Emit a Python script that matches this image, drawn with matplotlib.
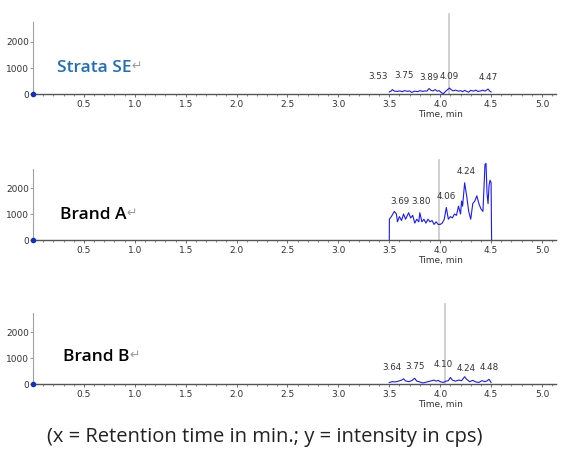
import matplotlib
matplotlib.use("Agg")
import matplotlib.pyplot as plt
from matplotlib.ticker import MultipleLocator
from matplotlib.transforms import offset_copy

# --- data (time in min, intensity in cps) ---
strata_t = [3.50, 3.52, 3.53, 3.55, 3.58, 3.60, 3.63, 3.65, 3.68, 3.70, 3.72, 3.75,
            3.78, 3.80, 3.83, 3.85, 3.87, 3.89, 3.91, 3.93, 3.95, 3.97, 3.99, 4.01,
            4.03, 4.05, 4.07, 4.09, 4.11, 4.13, 4.15, 4.18, 4.20, 4.22, 4.24, 4.26,
            4.28, 4.30, 4.33, 4.35, 4.37, 4.40, 4.42, 4.44, 4.47, 4.49, 4.50]
strata_i = [80, 120, 170, 110, 100, 120, 90, 130, 100, 120, 60, 110,
            90, 130, 100, 120, 110, 210, 140, 120, 170, 110, 130, 60,
            10, 90, 160, 230, 160, 120, 150, 110, 130, 90, 140, 100,
            70, 140, 110, 150, 100, 120, 150, 110, 190, 100, 80]

brandA_t = [3.50, 3.501, 3.52, 3.55, 3.57, 3.58, 3.60, 3.62, 3.64, 3.66, 3.69, 3.71,
            3.73, 3.75, 3.77, 3.79, 3.80, 3.82, 3.84, 3.86, 3.88, 3.90, 3.92, 3.94,
            3.96, 3.98, 4.00, 4.02, 4.04, 4.06, 4.08, 4.10, 4.12, 4.14, 4.16, 4.18,
            4.20, 4.21, 4.22, 4.24, 4.26, 4.28, 4.30, 4.32, 4.34, 4.36, 4.38, 4.40,
            4.42, 4.44, 4.45, 4.46, 4.47, 4.48, 4.49, 4.50, 4.505]
brandA_i = [0, 800, 900, 1100, 1000, 700, 900, 750, 1000, 800, 1050, 850,
            950, 650, 800, 700, 1050, 700, 800, 650, 800, 700, 750, 600,
            700, 600, 600, 650, 800, 1250, 800, 900, 850, 1000, 950, 1300,
            1000, 1500, 1300, 2200, 1700, 1100, 800, 1400, 1500, 1700, 1400, 1200,
            1100, 2900, 2950, 1800, 1400, 2100, 2300, 2200, 0]

brandB_t = [3.50, 3.53, 3.56, 3.59, 3.62, 3.64, 3.66, 3.69, 3.72, 3.75, 3.77, 3.80,
            3.83, 3.85, 3.88, 3.91, 3.94, 3.96, 3.98, 4.00, 4.03, 4.05, 4.08, 4.10,
            4.12, 4.15, 4.18, 4.21, 4.24, 4.26, 4.29, 4.32, 4.35, 4.38, 4.41, 4.44,
            4.46, 4.48, 4.50]
brandB_i = [60, 90, 80, 110, 150, 200, 120, 90, 130, 220, 110, 80,
            40, 60, 90, 120, 150, 110, 140, 90, 60, 100, 130, 250,
            150, 110, 150, 130, 280, 180, 90, 140, 80, 60, 130, 90,
            120, 180, 60]

strata_peaks = [3.53, 3.75, 3.89, 4.09, 4.47]
brandA_peaks = [3.69, 3.80, 4.06, 4.24]
brandB_peaks = [3.64, 3.75, 4.10, 4.24, 4.48]

# label nudges in points (x, y) so neighbouring peak labels don't collide
strata_nudge = [(-10, 1), (-8, 3), (0, 0), (0, 0), (0, 0)]
brandA_nudge = [(-6, 0), (1, 0), (0, 0), (1, 0)]
brandB_nudge = [(-8, 0), (0, 0), (-5, 1), (1, -2), (0, 0)]

panels = [
    ("Strata SE", "#1f6fb8", strata_t, strata_i, strata_peaks, strata_nudge,
     4.09, 0.7943, 0.236, 1000),
    ("Brand A", "black", brandA_t, brandA_i, brandA_peaks, brandA_nudge,
     3.99, 0.4748, 0.265, 960),
    ("Brand B", "black", brandB_t, brandB_i, brandB_peaks, brandB_nudge,
     4.05, 0.1597, 0.295, 1040),
]

fig = plt.figure(figsize=(5.63, 4.57), dpi=100)

for name, col, t, inten, peaks, nudge, marker_x, bottom, name_x, name_y in panels:
    ax = fig.add_axes([0.0586, bottom, 0.9294, 0.1764])
    ax.set_xlim(0, 5.14)
    ax.set_ylim(0, 3100)

    ax.axvline(marker_x, ymin=0, ymax=0.99, color="#c8c8c8", lw=1.2, zorder=1)
    ax.plot(t, inten, color="#1a1aff", lw=0.8, zorder=3)
    ax.plot([0], [0], marker="o", ms=3, color="#1030c0", clip_on=False, zorder=5)

    # peak labels
    for p, (dx, dy) in zip(peaks, nudge):
        near = min(range(len(t)), key=lambda k: abs(t[k] - p))
        lbl_tr = offset_copy(ax.transData, fig=fig, x=dx, y=5 + dy, units="points")
        ax.text(p, inten[near], f"{p:.2f}", transform=lbl_tr, fontsize=6.3,
                ha="center", va="bottom", color="#333333",
                family="Liberation Sans Narrow")

    for s in ["top", "right"]:
        ax.spines[s].set_visible(False)
    ax.spines["left"].set_color("#a0a0a0")
    ax.spines["left"].set_linewidth(0.8)
    ax.spines["left"].set_bounds(0, 2750)
    ax.spines["bottom"].set_color("#555555")
    ax.spines["bottom"].set_linewidth(1.0)

    ax.set_yticks([0, 1000, 2000])
    ax.set_yticklabels(["0", "1000", "2000"])
    ax.set_xticks([0.5, 1.0, 1.5, 2.0, 2.5, 3.0, 3.5, 4.0, 4.5, 5.0])
    ax.xaxis.set_minor_locator(MultipleLocator(0.1))
    ax.tick_params(axis="x", which="major", length=2.5, width=0.6,
                   colors="#555555", labelsize=6.5, pad=2, labelcolor="#333333")
    ax.tick_params(axis="x", which="minor", length=1.5, width=0.5, colors="#555555")
    ax.tick_params(axis="y", length=2, width=0.6, colors="#888888",
                   labelsize=6.5, pad=1, labelcolor="#333333")
    for lab in ax.get_xticklabels() + ax.get_yticklabels():
        lab.set_family("Liberation Sans Narrow")

    ax.text(4.0, -800, "Time, min", fontsize=6.5, ha="center", va="center",
            color="#333333", family="Liberation Sans Narrow")

    # sample name with a faint return mark after it
    nm = ax.text(name_x, name_y, name, fontsize=12.5, fontweight="semibold",
                 color=col, family="Open Sans", va="center", ha="left")
    fig.canvas.draw()
    bb = nm.get_window_extent()
    x_end, _ = ax.transData.inverted().transform((bb.x1, bb.y0))
    ax.text(x_end, name_y + 60, "\u21b5", fontsize=9, color="#9a9a9a",
            family=["DejaVu Sans"], va="center", ha="left")

fig.text(0.0835, 0.044, "(x = Retention time in min.; y = intensity in cps)",
         fontsize=14.5, family="Open Sans", color="#222222", va="center", ha="left")

fig.savefig("out.png", dpi=100)
